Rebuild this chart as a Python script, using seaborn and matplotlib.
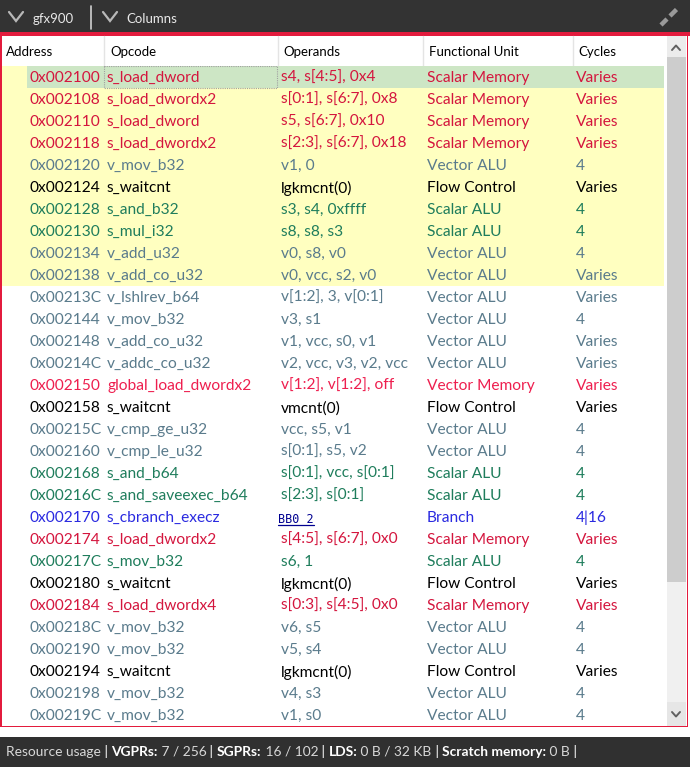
import matplotlib
matplotlib.use("Agg")
import matplotlib.pyplot as plt
from matplotlib.patches import Rectangle
from matplotlib.colors import ListedColormap
import numpy as np
import seaborn as sns

# disassembly listing shown in the view
addresses = ["0x002100", "0x002108", "0x002110", "0x002118", "0x002120", "0x002124",
             "0x002128", "0x002130", "0x002134", "0x002138", "0x00213C", "0x002144",
             "0x002148", "0x00214C", "0x002150", "0x002158", "0x00215C", "0x002160",
             "0x002168", "0x00216C", "0x002170", "0x002174", "0x00217C", "0x002180",
             "0x002184", "0x00218C", "0x002190", "0x002194", "0x002198", "0x00219C"]
opcodes = ["s_load_dword", "s_load_dwordx2", "s_load_dword", "s_load_dwordx2", "v_mov_b32",
           "s_waitcnt", "s_and_b32", "s_mul_i32", "v_add_u32", "v_add_co_u32",
           "v_lshlrev_b64", "v_mov_b32", "v_add_co_u32", "v_addc_co_u32", "global_load_dwordx2",
           "s_waitcnt", "v_cmp_ge_u32", "v_cmp_le_u32", "s_and_b64", "s_and_saveexec_b64",
           "s_cbranch_execz", "s_load_dwordx2", "s_mov_b32", "s_waitcnt", "s_load_dwordx4",
           "v_mov_b32", "v_mov_b32", "s_waitcnt", "v_mov_b32", "v_mov_b32"]
operands = ["s4, s[4:5], 0x4", "s[0:1], s[6:7], 0x8", "s5, s[6:7], 0x10", "s[2:3], s[6:7], 0x18",
            "v1, 0", "lgkmcnt(0)", "s3, s4, 0xffff", "s8, s8, s3", "v0, s8, v0",
            "v0, vcc, s2, v0", "v[1:2], 3, v[0:1]", "v3, s1", "v1, vcc, s0, v1",
            "v2, vcc, v3, v2, vcc", "v[1:2], v[1:2], off", "vmcnt(0)", "vcc, s5, v1",
            "s[0:1], s5, v2", "s[0:1], vcc, s[0:1]", "s[2:3], s[0:1]", "BB0_2",
            "s[4:5], s[6:7], 0x0", "s6, 1", "lgkmcnt(0)", "s[0:3], s[4:5], 0x0",
            "v6, s5", "v5, s4", "lgkmcnt(0)", "v4, s3", "v1, s0"]
units = ["Scalar Memory", "Scalar Memory", "Scalar Memory", "Scalar Memory", "Vector ALU",
         "Flow Control", "Scalar ALU", "Scalar ALU", "Vector ALU", "Vector ALU",
         "Vector ALU", "Vector ALU", "Vector ALU", "Vector ALU", "Vector Memory",
         "Flow Control", "Vector ALU", "Vector ALU", "Scalar ALU", "Scalar ALU",
         "Branch", "Scalar Memory", "Scalar ALU", "Flow Control", "Scalar Memory",
         "Vector ALU", "Vector ALU", "Flow Control", "Vector ALU", "Vector ALU"]
cycles = ["Varies", "Varies", "Varies", "Varies", "4", "Varies", "4", "4", "4", "Varies",
          "Varies", "4", "Varies", "Varies", "Varies", "Varies", "4", "4", "4", "4",
          "4|16", "Varies", "4", "Varies", "Varies", "4", "4", "Varies", "4", "4"]
columns = ["Address", "Opcode", "Operands", "Functional Unit", "Cycles"]
label_rows = {20: "BB0_2"}
selected_row = 0
n_highlighted = 10

unit_colors = {"Scalar Memory": "#d4163e", "Vector Memory": "#ee1f4f",
               "Vector ALU": "#5a7b8c", "Scalar ALU": "#1f7d5c",
               "Flow Control": "#000000", "Branch": "#2a2ae0"}

sns.set_theme(style="white")
plt.rcParams["font.family"] = ["Lato", "DejaVu Sans"]

W, H = 690, 767
fig = plt.figure(figsize=(W / 100, H / 100), dpi=100)
fig.patch.set_facecolor("white")


def px_axes(x0, y0, x1, y1, z):
    a = fig.add_axes([x0 / W, 1 - y1 / H, (x1 - x0) / W, (y1 - y0) / H], zorder=z)
    a.patch.set_alpha(0)
    return a


def pixel_space(a):
    a.set_xlim(0, W)
    a.set_ylim(H, 0)
    a.axis("off")


# window chrome
chrome = px_axes(0, 0, W, H, 0)
pixel_space(chrome)
chrome.add_patch(Rectangle((0, 0), W, 33, color="#333333", lw=0))
chrome.add_patch(Rectangle((0, 32), W, 4, color="#e31b3d", lw=0))
chrome.add_patch(Rectangle((0, 737), W, 30, color="#303030", lw=0))
for x0 in (9, 103):
    chrome.plot([x0, x0 + 7, x0 + 14], [12, 21, 12], color="#b8b8b8", lw=1.6,
                solid_joinstyle="miter")
chrome.plot([90.5, 90.5], [6, 29], color="#d0d0d0", lw=1.2)
chrome.text(33, 19, "gfx900", color="#e8e8e8", fontsize=9.5, va="center")
chrome.text(126, 19, "Columns", color="#e8e8e8", fontsize=9.5, va="center")
chrome.plot([661, 667], [25, 19], color="#9a9a9a", lw=3.2, solid_capstyle="butt")
chrome.plot([670, 676.5], [16, 9.5], color="#9a9a9a", lw=3.2, solid_capstyle="butt")

# header
for sx in (103.5, 277.5, 422.5, 572.5):
    chrome.plot([sx, sx], [36, 66], color="#e4e4e4", lw=1)
header_x = [6, 110, 283, 429, 578]
for hx, name in zip(header_x, columns):
    chrome.text(hx, 52, name, color="#000000", fontsize=9.5, va="center")

# scrollbar
chrome.add_patch(Rectangle((667, 36), 19, 21, color="#ececec", lw=0))
chrome.add_patch(Rectangle((667, 57), 19, 525, color="#cdcdcd", lw=0))
chrome.add_patch(Rectangle((667, 582), 19, 120, color="#f0f0f0", lw=0))
chrome.add_patch(Rectangle((667, 702), 19, 24, color="#e6e6e6", lw=0))
chrome.plot([672, 676, 680], [50, 45.5, 50], color="#606060", lw=1.4)
chrome.plot([672, 676, 680], [712, 716.5, 712], color="#606060", lw=1.4)

# row highlight via heatmap
n = len(addresses)
gutter = 25
hl = np.zeros((n, gutter))
hl[:n_highlighted, :] = 1
hl[selected_row, 1:] = 2
hax = px_axes(0, 66, 664, 66 + 22 * n, 1)
sns.heatmap(hl, ax=hax, cmap=ListedColormap(["#ffffff", "#ffffc0", "#cde6c5"]),
            vmin=-0.5, vmax=2.5, cbar=False, xticklabels=False, yticklabels=False)

# listing text
tax = px_axes(0, 66, 664, 66 + 22 * n, 2)
tax.set_xlim(0, 664)
tax.set_ylim(n, 0)
tax.axis("off")
col_x = [29, 107, 281, 427, 576]
link = None
for i in range(n):
    c = unit_colors[units[i]]
    y = i + 0.55
    tax.text(col_x[0], y, addresses[i], color=c, fontsize=11.2, va="center")
    tax.text(col_x[1], y, opcodes[i], color=c, fontsize=11.2, va="center")
    if i in label_rows:
        link = tax.text(col_x[2] - 3, y, label_rows[i], color="#000090", fontsize=8.5,
                        va="center", family="DejaVu Sans Mono")
    else:
        tax.text(col_x[2], y, operands[i], color=c, fontsize=11.2, va="center")
    tax.text(col_x[3], y, units[i], color=c, fontsize=11.2, va="center")
    tax.text(col_x[4], y, cycles[i], color=c, fontsize=11.2, va="center")

tax.add_patch(Rectangle((104, 0), 173, 1, fill=False, ec="#a0a0a0", lw=0.8, ls=(0, (1, 1))))

fig.canvas.draw()
if link is not None:
    bb = link.get_window_extent().transformed(tax.transData.inverted())
    yline = link.get_position()[1] + 0.33
    tax.plot([bb.x0, bb.x1], [yline, yline], color="#000090", lw=0.9)

# status bar
status = [("Resource usage", "normal", "#d8d8d8"), (" | ", "normal", "#ffffff"),
          ("VGPRs:", "bold", "#ffffff"), (" 7 / 256", "normal", "#d8d8d8"),
          (" | ", "normal", "#ffffff"), ("SGPRs:", "bold", "#ffffff"),
          (" 16 / 102", "normal", "#d8d8d8"), (" | ", "normal", "#ffffff"),
          ("LDS:", "bold", "#ffffff"), (" 0 B / 32 KB", "normal", "#d8d8d8"),
          (" | ", "normal", "#ffffff"), ("Scratch memory:", "bold", "#ffffff"),
          (" 0 B", "normal", "#d8d8d8"), (" |", "normal", "#ffffff")]
prev = chrome.text(6, 752, status[0][0], color=status[0][2], fontsize=9.9,
                   fontweight=status[0][1], va="center")
for s, wgt, col in status[1:]:
    prev = chrome.annotate(s, xy=(1, 0.5), xycoords=prev, va="center", ha="left",
                           color=col, fontsize=9.9, fontweight=wgt)

# red frame around the listing
over = px_axes(0, 0, W, H, 5)
pixel_space(over)
over.add_patch(Rectangle((0, 36), 1.6, 691, color="#e31b3d", lw=0))
over.add_patch(Rectangle((686.6, 36), 1.6, 691, color="#e31b3d", lw=0))
over.add_patch(Rectangle((0, 725.6), 688.2, 1.6, color="#e31b3d", lw=0))

fig.savefig("out.png", dpi=100, facecolor=fig.get_facecolor())
